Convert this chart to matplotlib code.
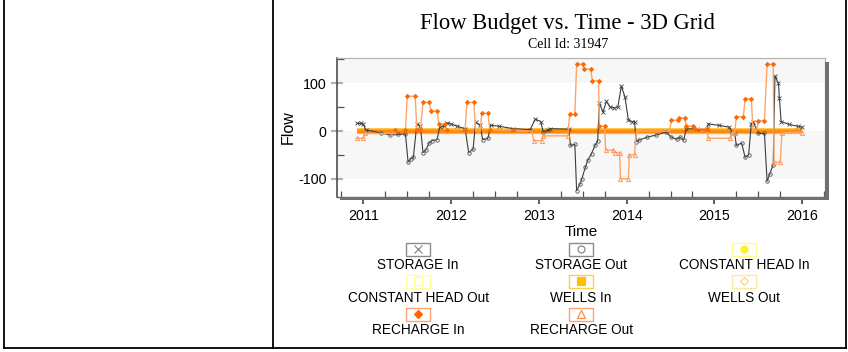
import matplotlib
matplotlib.use("Agg")
import matplotlib.pyplot as plt
from matplotlib.lines import Line2D
from matplotlib.patches import Rectangle
import numpy as np

W, H = 848, 352

# STORAGE (net flow, + = In, - = Out), decimal years
storage_t = [2010.93, 2010.97, 2011.00, 2011.03, 2011.10, 2011.20, 2011.30, 2011.40, 2011.48,
             2011.51, 2011.54, 2011.57, 2011.61, 2011.65, 2011.68, 2011.71, 2011.75, 2011.78,
             2011.84, 2011.87, 2011.92, 2011.95, 2012.00, 2012.07, 2012.16, 2012.20, 2012.25,
             2012.28, 2012.33, 2012.36, 2012.42, 2012.45, 2012.55, 2012.71, 2012.90, 2012.96,
             2013.02, 2013.05, 2013.10, 2013.13, 2013.34, 2013.36, 2013.41, 2013.43, 2013.47,
             2013.49, 2013.53, 2013.56, 2013.60, 2013.64, 2013.67, 2013.69, 2013.73, 2013.77,
             2013.81, 2013.86, 2013.90, 2013.94, 2013.98, 2014.02, 2014.06, 2014.09, 2014.11,
             2014.14, 2014.23, 2014.34, 2014.45, 2014.51, 2014.57, 2014.61, 2014.65, 2014.68,
             2014.80, 2014.92, 2014.93, 2015.05, 2015.17, 2015.20, 2015.23, 2015.25, 2015.31,
             2015.35, 2015.39, 2015.42, 2015.44, 2015.50, 2015.57, 2015.60, 2015.63, 2015.67,
             2015.69, 2015.73, 2015.74, 2015.76, 2015.85, 2015.95, 2016.00]
storage_v = [16, 16, 14, 2, 0, -4, -8, -7, -6,
             -65, -58, -55, 15, 10, -45, -40, -25, -20,
             -18, 8, 10, 17, 15, 10, 5, -45, -38,
             18, 12, -18, -15, 12, 10, 5, 3, 25,
             20, -2, 2, 5, 4, -30, -28, -125, -110,
             -100, -75, -60, -47, -30, -20, 58, 40, 62,
             51, 48, 51, 94, 72, 23, 20, 20, -22,
             -19, -13, -8, -2, -13, -17, -13, -19, 5,
             4, 4, 15, 12, 8, -3, -3, -30, -25,
             -55, -50, 15, 20, -5, -5, -105, -90, -70,
             115, 100, 70, 20, 14, 10, 8]

# RECHARGE (+ = In, - = Out), step values per stress period
recharge_t = [2010.93, 2011.00, 2011.02, 2011.34, 2011.36, 2011.48, 2011.50, 2011.59, 2011.61,
              2011.65, 2011.68, 2011.75, 2011.77, 2011.84, 2011.86, 2011.93, 2011.95, 2012.16,
              2012.18, 2012.26, 2012.28, 2012.33, 2012.35, 2012.42, 2012.44, 2012.70, 2012.92,
              2012.94, 2013.03, 2013.05, 2013.33, 2013.35, 2013.41, 2013.43, 2013.50, 2013.51,
              2013.59, 2013.61, 2013.68, 2013.69, 2013.75, 2013.76, 2013.85, 2013.87, 2013.92,
              2013.93, 2014.02, 2014.03, 2014.09, 2014.11, 2014.49, 2014.51, 2014.58, 2014.60,
              2014.66, 2014.68, 2014.76, 2014.78, 2014.91, 2014.93, 2015.18, 2015.20, 2015.23,
              2015.25, 2015.33, 2015.35, 2015.42, 2015.44, 2015.48, 2015.50, 2015.57, 2015.60,
              2015.67, 2015.68, 2015.75, 2015.77, 2016.00]
recharge_v = [-15, -15, -5, -5, 3, 3, 73, 73, 3,
              3, 60, 60, 42, 42, 15, 15, 3, 3,
              60, 60, 0, 0, 37, 37, 3, 2, 0,
              -20, -20, -10, -10, 35, 35, 140, 140, 130,
              130, 105, 105, 10, 10, -40, -40, -45, -45,
              -100, -100, -50, -50, 0, 0, 23, 23, 27,
              27, 10, 10, 5, 5, -15, -15, -3, -3,
              30, 30, 68, 68, 0, 0, 22, 22, 140,
              140, -65, -65, -3, -3]

# CONSTANT HEAD and WELLS stay at zero
zero_t = [2010.93, 2016.00]
const_head_in = [0, 0]
const_head_out = [0, 0]
wells_in = [0, 0]
wells_out = [0, 0]

years = [2011, 2012, 2013, 2014, 2015, 2016]
quarters = [2010.75, 2011.25, 2011.5, 2011.75, 2012.25, 2012.5, 2012.75, 2013.25, 2013.5,
            2013.75, 2014.25, 2014.5, 2014.75, 2015.25, 2015.5, 2015.75, 2016.25]

legend_labels = ["STORAGE In", "STORAGE Out", "CONSTANT HEAD In",
                 "CONSTANT HEAD Out", "WELLS In", "WELLS Out",
                 "RECHARGE In", "RECHARGE Out"]

SANS = "Liberation Sans"
SERIF = "Liberation Serif"


def fx(x):
    return x / W


def fy(y):
    return 1 - y / H


fig = plt.figure(figsize=(W / 100, H / 100), dpi=100)

# page table lines
for (x0, y0, x1, y1) in [(4, 0, 4, 347.5), (273, 0, 273, 347.5), (846, 0, 846, 347.5),
                         (4, 347.5, 846, 347.5)]:
    fig.add_artist(Line2D([fx(x0), fx(x1)], [fy(y0), fy(y1)], color="black", lw=1.3,
                          transform=fig.transFigure))

# shadow behind the plot frame
fig.add_artist(Rectangle((fx(825), fy(200)), 3.5 / W, 138 / H, transform=fig.transFigure,
                         color="#707070", lw=0))
fig.add_artist(Rectangle((fx(340), fy(200)), 488 / W, 3 / H, transform=fig.transFigure,
                         color="#707070", lw=0))

ax = fig.add_axes([fx(337), fy(197), (825 - 337) / W, (197 - 58) / H])
ax.set_facecolor("white")
ax.axhspan(100, 200, color="#f7f7f7", lw=0, zorder=0)
ax.axhspan(-100, 0, color="#f7f7f7", lw=0, zorder=0)

# zero series
ax.plot(zero_t, const_head_in, color="#ffd24d", lw=4.2, solid_capstyle="butt", zorder=2)
ax.plot(zero_t, const_head_out, color="#ffc640", lw=3.8, solid_capstyle="butt", zorder=2)
ax.plot(zero_t, wells_out, color="#ffa630", lw=3.2, solid_capstyle="butt", zorder=2)
ax.plot(zero_t, wells_in, color="#ff8a10", lw=2.4, solid_capstyle="butt", zorder=2)

st = np.array(storage_t)
sv = np.array(storage_v)
ax.plot(st, sv, color="#3c3c3c", lw=0.8, zorder=3)
ax.plot(st[sv > 0], sv[sv > 0], "x", ms=3, mew=0.6, color="#444444", zorder=4)
ax.plot(st[sv < 0], sv[sv < 0], "o", ms=2.5, mew=0.6, mfc="none", mec="#555555", zorder=4)

rt = np.array(recharge_t)
rv = np.array(recharge_v)
ax.plot(rt, rv, color="#ffa466", lw=1.0, zorder=5)
ax.plot(rt[rv > 0], rv[rv > 0], "D", ms=2.8, mew=0, color="#ff6a00", zorder=6)
ax.plot(rt[rv < 0], rv[rv < 0], "^", ms=3, mew=0.7, mfc="none", mec="#ff9a5c", zorder=6)

ax.set_xlim(2010.70, 2016.26)
ax.set_ylim(-138, 153)

ax.set_xticks(years)
ax.set_xticklabels([str(y) for y in years], fontfamily=SANS, fontsize=10.3)
ax.set_xticks(quarters, minor=True)
ax.set_yticks([-100, 0, 100])
ax.set_yticklabels(["-100", "0", "100"], fontfamily=SANS, fontsize=10.3)
ax.set_yticks([-50, 50, 150], minor=True)
ax.tick_params(axis="x", which="major", direction="out", length=5, width=1.2,
               color="#404040", pad=4)
ax.tick_params(axis="x", which="minor", direction="in", length=4, width=0.9, color="#505050")
ax.tick_params(axis="y", which="major", direction="inout", length=9, width=1.6,
               color="#b0b0b0", pad=3)
ax.tick_params(axis="y", which="minor", direction="in", length=5, width=0.9, color="#505050")

ax.spines["left"].set_color("#404040")
ax.spines["left"].set_linewidth(1.1)
ax.spines["bottom"].set_color("#606060")
ax.spines["bottom"].set_linewidth(1.0)
for s in ["top", "right"]:
    ax.spines[s].set_color("#b4b4b4")
    ax.spines[s].set_linewidth(0.9)

fig.text(fx(567), fy(23), "Flow Budget vs. Time - 3D Grid", family=SERIF, fontsize=16.3,
         ha="center", va="center")
fig.text(fx(568), fy(45), "Cell Id: 31947", family=SERIF, fontsize=10,
         ha="center", va="center")
fig.text(fx(288), fy(127), "Flow", family=SANS, fontsize=11.5, rotation=90,
         ha="center", va="center")
fig.text(fx(581), fy(232), "Time", family=SANS, fontsize=11, ha="center", va="center")

# legend drawn by hand: box with marker, label below
legend_style = [
    dict(edge="#8a8a8a", marker="x", mfc="#8a8a8a", mec="#8a8a8a", ms=6),
    dict(edge="#8a8a8a", marker="o", mfc="none", mec="#8a8a8a", ms=5),
    dict(edge="#ffff8c", marker="o", mfc="#ffee33", mec="#ffee33", ms=5),
    dict(edge="#ffffa0", marker="s", mfc="none", mec="#ffff80", ms=5.5),
    dict(edge="#ffcc4d", marker="s", mfc="#ffc000", mec="#ffc000", ms=5.5),
    dict(edge="#ffe8a0", marker="D", mfc="none", mec="#ffd966", ms=4.5),
    dict(edge="#ffa070", marker="D", mfc="#ff6600", mec="#ff6600", ms=4.5),
    dict(edge="#ffa070", marker="^", mfc="none", mec="#ff8a4d", ms=5.5),
]
col_x = [418, 581, 744]
box_y = [249, 281, 314]
label_y = [265, 297.5, 329.5]
for i, (lab, sty) in enumerate(zip(legend_labels, legend_style)):
    cx = col_x[i % 3]
    r = i // 3
    fig.add_artist(Rectangle((fx(cx - 12), fy(box_y[r] + 6.5)), 24 / W, 13 / H,
                             transform=fig.transFigure, facecolor="white",
                             edgecolor=sty["edge"], lw=1.0))
    fig.add_artist(Line2D([fx(cx)], [fy(box_y[r])], transform=fig.transFigure,
                          marker=sty["marker"], ms=sty["ms"], mfc=sty["mfc"],
                          mec=sty["mec"], mew=0.9, ls="none"))
    fig.text(fx(cx), fy(label_y[r]), lab, family=SANS, fontsize=9.8,
             ha="center", va="center")

fig.savefig("out.png", dpi=100)
